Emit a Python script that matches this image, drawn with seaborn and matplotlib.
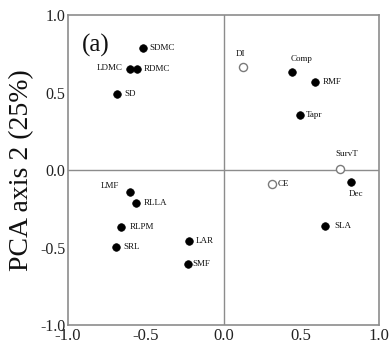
import matplotlib
matplotlib.use("Agg")
import matplotlib.pyplot as plt
import seaborn as sns
import pandas as pd

# PCA loadings of traits on axes 1 and 2
traits = ["SDMC", "LDMC", "RDMC", "SD", "DI", "Comp", "RMF", "Tapr", "SurvT",
          "CE", "Dec", "SLA", "LAR", "SMF", "LMF", "RLLA", "RLPM", "SRL"]
pc1 = [-0.52, -0.60, -0.555, -0.685, 0.125, 0.44, 0.585, 0.49, 0.75,
       0.31, 0.82, 0.655, -0.22, -0.23, -0.60, -0.565, -0.66, -0.69]
pc2 = [0.79, 0.65, 0.65, 0.49, 0.665, 0.635, 0.565, 0.355, 0.005,
       -0.09, -0.08, -0.36, -0.455, -0.605, -0.14, -0.21, -0.365, -0.495]
open_marker = ["DI", "SurvT", "CE"]

# label placement: (dx, dy) in pixels and horizontal alignment
label_pos = {
    "SDMC": (7, 0, "left"), "LDMC": (-8, 1, "right"), "RDMC": (7, 0, "left"),
    "SD": (7, 0, "left"), "DI": (-2, 13, "center"), "Comp": (10, 13, "center"),
    "RMF": (8, 0, "left"), "Tapr": (6, 0, "left"), "SurvT": (7, 15, "center"),
    "CE": (6, 0, "left"), "Dec": (5, -12, "center"), "SLA": (9, 0, "left"),
    "LAR": (6, 0, "left"), "SMF": (5, 0, "left"), "LMF": (-11, 6, "right"),
    "RLLA": (8, 0, "left"), "RLPM": (9, 0, "left"), "SRL": (7, 0, "left"),
}

df = pd.DataFrame({"trait": traits, "PC1": pc1, "PC2": pc2})
df["open"] = df["trait"].isin(open_marker)

sns.set_style("white")
plt.rcParams["font.family"] = ["Liberation Serif", "DejaVu Serif"]

fig = plt.figure(figsize=(3.92, 3.5), dpi=100)
ax = fig.add_axes([0.1735, 0.0714, 0.7935, 0.8856])

frame = "#8c8c8c"
ax.axhline(0, color=frame, lw=1.0, zorder=1)
ax.axvline(0, color=frame, lw=1.0, zorder=1)

sns.scatterplot(data=df[~df["open"]], x="PC1", y="PC2", ax=ax, color="black",
                s=30, edgecolor="black", linewidth=0.5, zorder=3, legend=False)
sns.scatterplot(data=df[df["open"]], x="PC1", y="PC2", ax=ax, color="white",
                s=34, edgecolor="#7a7a7a", linewidth=1.0, zorder=3, legend=False)

for _, r in df.iterrows():
    dx, dy, ha = label_pos[r["trait"]]
    ax.annotate(r["trait"], (r["PC1"], r["PC2"]), xytext=(dx, dy),
                textcoords="offset pixels", ha=ha, va="center",
                fontsize=6.5, color="#111111")

ax.text(-0.82, 0.805, "(a)", fontsize=18, ha="center", va="center", color="#111111")

ax.set_xlim(-1.0, 1.0)
ax.set_ylim(-1.0, 1.0)
ax.set_xticks([-1.0, -0.5, 0.0, 0.5, 1.0])
ax.set_yticks([-1.0, -0.5, 0.0, 0.5, 1.0])
ax.set_xticklabels(["-1.0", "-0.5", "0.0", "0.5", "1.0"])
ax.set_yticklabels(["-1.0", "-0.5", "0.0", "0.5", "1.0"])
ax.tick_params(axis="x", direction="in", length=3, width=0.8, color=frame,
               labelsize=12, pad=2, labelcolor="#222222")
ax.tick_params(axis="y", direction="out", length=2, width=0.8, color=frame,
               labelsize=11.5, pad=0, labelcolor="#222222")
ax.set_xlabel("")
ax.set_ylabel("PCA axis 2 (25%)", fontsize=20, labelpad=4, color="#111111")

for sp in ax.spines.values():
    sp.set_color(frame)
    sp.set_linewidth(1.2)

fig.savefig("out.png", dpi=100)
